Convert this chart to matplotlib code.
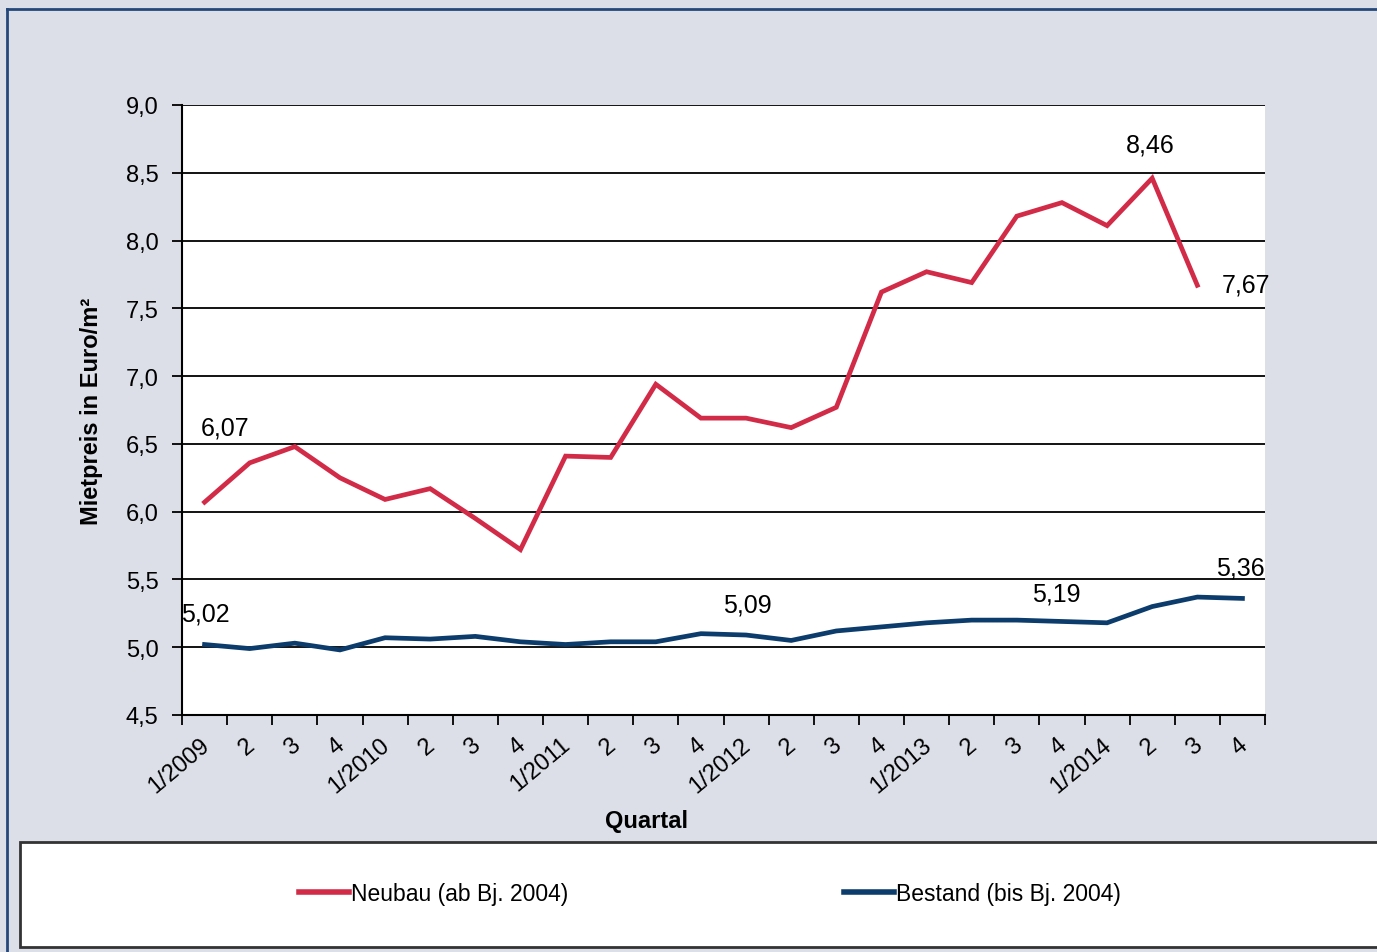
import numpy as np
import matplotlib
matplotlib.use('Agg')
import matplotlib.pyplot as plt
import matplotlib.transforms as mtransforms
from matplotlib.lines import Line2D
from matplotlib.patches import Rectangle

plt.rcParams['font.family'] = ['Liberation Sans', 'DejaVu Sans']

# quarters 1/2009 .. 4/2014
quarters = ['1/2009', '2', '3', '4', '1/2010', '2', '3', '4',
            '1/2011', '2', '3', '4', '1/2012', '2', '3', '4',
            '1/2013', '2', '3', '4', '1/2014', '2', '3', '4']

# Neubau (ab Bj. 2004) - no value for 4/2014
neubau = [6.07, 6.36, 6.48, 6.25, 6.09, 6.17, 5.95, 5.72,
          6.41, 6.40, 6.94, 6.69, 6.69, 6.62, 6.77, 7.62,
          7.77, 7.69, 8.18, 8.28, 8.11, 8.46, 7.67]

# Bestand (bis Bj. 2004)
bestand = [5.02, 4.99, 5.03, 4.98, 5.07, 5.06, 5.08, 5.04,
           5.02, 5.04, 5.04, 5.10, 5.09, 5.05, 5.12, 5.15,
           5.18, 5.20, 5.20, 5.19, 5.18, 5.30, 5.37, 5.36]

yticks = [4.5, 5.0, 5.5, 6.0, 6.5, 7.0, 7.5, 8.0, 8.5, 9.0]

# labelled points: (index, text, dx px, dy px)
labels_neubau = [(0, '6,07', 21, 75), (21, '8,46', -2, 34), (22, '7,67', 49, 1)]
labels_bestand = [(0, '5,02', 1, 31), (12, '5,09', 1, 31), (19, '5,19', -6, 28), (23, '5,36', -2, 31)]

red = '#D22B48'
blue = '#0C3C6C'
bg = '#DCDFE8'

fig = plt.figure(figsize=(13.77, 9.53), dpi=100, facecolor=bg)
ax = fig.add_axes([182/1377, 1-716/953, (1265-182)/1377, (716-106)/953])
ax.set_facecolor('white')

x_n = np.arange(len(neubau))
x_b = np.arange(len(bestand))
ax.plot(x_n, neubau, color=red, lw=3.4, solid_joinstyle='miter', zorder=3)
ax.plot(x_b, bestand, color=blue, lw=3.4, solid_joinstyle='miter', zorder=3)

ax.set_xlim(-0.5, len(quarters)-0.5)
ax.set_ylim(4.5, 9.0)

# y axis
ax.set_yticks(yticks)
ax.set_yticklabels([('%.1f' % v).replace('.', ',') for v in yticks], fontsize=17)
ax.yaxis.grid(True, color='black', lw=1.3)
ax.set_axisbelow(True)
ax.tick_params(axis='y', direction='out', length=7, width=1.3, pad=10)

# x axis: ticks on boundaries, labels on centres
ax.set_xticks(np.arange(-0.5, len(quarters)), minor=False)
ax.set_xticklabels([])
ax.set_xticks(np.arange(len(quarters)), minor=True)
ax.set_xticklabels(quarters, minor=True, fontsize=17, rotation=40,
                   ha='right', va='top', rotation_mode='anchor')
ax.tick_params(axis='x', which='major', direction='out', length=7, width=1.3)
ax.tick_params(axis='x', which='minor', length=0, pad=13)
shift = mtransforms.ScaledTranslation(-5/100, 0, fig.dpi_scale_trans)
for lab in ax.get_xticklabels(minor=True):
    lab.set_transform(lab.get_transform() + shift)

for s in ['top', 'right']:
    ax.spines[s].set_visible(False)
for s in ['left', 'bottom']:
    ax.spines[s].set_linewidth(1.5)

ax.set_ylabel('Mietpreis in Euro/m²', fontsize=17, fontweight='bold', labelpad=16)
fig.text(646/1377, 1-822/953, 'Quartal', fontsize=17, fontweight='bold',
         ha='center', va='center')

for i, t, dx, dy in labels_neubau:
    ax.annotate(t, (x_n[i], neubau[i]), xytext=(dx*0.72, dy*0.72),
                textcoords='offset points', ha='center', va='center', fontsize=18)
for i, t, dx, dy in labels_bestand:
    ax.annotate(t, (x_b[i], bestand[i]), xytext=(dx*0.72, dy*0.72),
                textcoords='offset points', ha='center', va='center', fontsize=18)

# outer frame (top and left)
fig.add_artist(Line2D([7/1377, 7/1377], [0, 1-10/953], color='#24487A', lw=2, transform=fig.transFigure))
fig.add_artist(Line2D([7/1377, 1], [1-10/953, 1-10/953], color='#24487A', lw=2, transform=fig.transFigure))

# legend box
fig.add_artist(Rectangle((20/1377, 1-948/953), 1.0, (948-843)/953, transform=fig.transFigure,
                         facecolor='white', edgecolor='#333333', lw=2, zorder=1))
handles = [Line2D([], [], color=red, lw=4), Line2D([], [], color=blue, lw=4)]
leg = fig.legend(handles, ['Neubau (ab Bj. 2004)', 'Bestand (bis Bj. 2004)'],
                 loc='center', bbox_to_anchor=(710/1377, 1-895/953), ncol=2,
                 frameon=False, fontsize=16.5, handlelength=2.2, handletextpad=0.1,
                 columnspacing=12.0)
leg.set_zorder(5)

fig.savefig('out.png', dpi=100, facecolor=bg)
